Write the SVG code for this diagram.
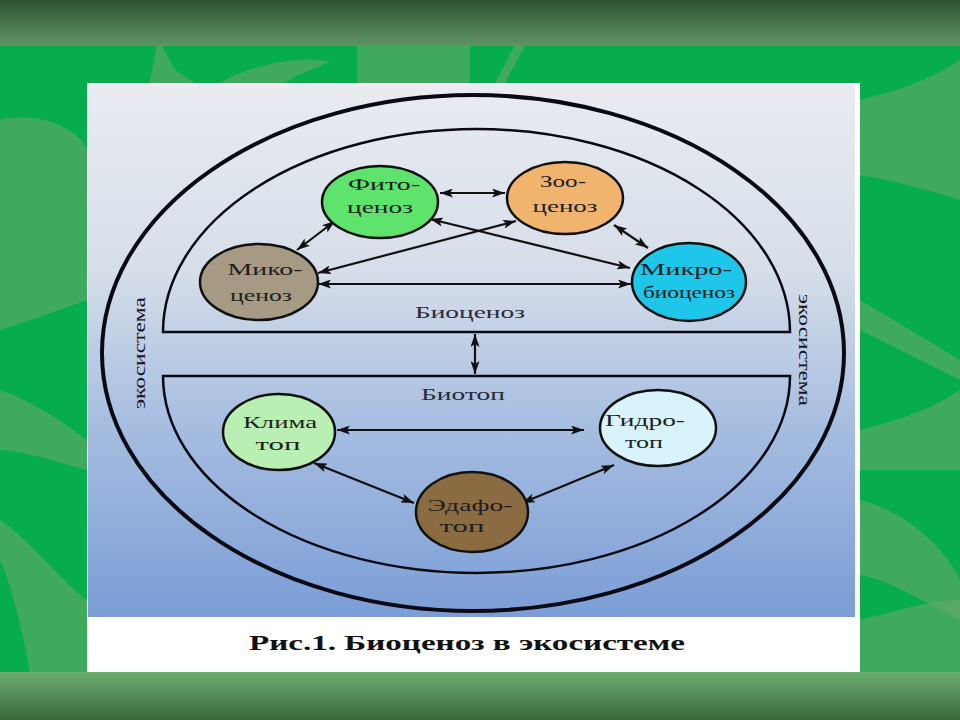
<svg xmlns="http://www.w3.org/2000/svg" width="960" height="720" viewBox="0 0 960 720">
<defs>
<linearGradient id="topband" x1="0" y1="0" x2="0" y2="1">
<stop offset="0" stop-color="#2f5332"/><stop offset="1" stop-color="#5e9463"/>
</linearGradient>
<linearGradient id="botband" x1="0" y1="0" x2="0" y2="1">
<stop offset="0" stop-color="#6cae6f"/><stop offset="1" stop-color="#3b673d"/>
</linearGradient>
<linearGradient id="pic" x1="0" y1="0" x2="0" y2="1">
<stop offset="0" stop-color="#e9ecf1"/><stop offset="0.35" stop-color="#d6dee9"/><stop offset="0.62" stop-color="#a9bfe1"/><stop offset="1" stop-color="#7b9dd6"/>
</linearGradient>
<marker id="ah" viewBox="0 0 13 9" refX="13" refY="4.5" markerWidth="13" markerHeight="9" markerUnits="userSpaceOnUse" orient="auto-start-reverse">
<path d="M0,0 L13,4.5 L0,9 L3,4.5 z" fill="#111"/>
</marker>
<style>
.leaf{fill:#66a867;opacity:0.6}
.node{stroke:#111;stroke-width:2.5}
.t{font-family:"Liberation Serif","DejaVu Serif",serif;font-size:17px;fill:#1e1e1e;text-anchor:middle}
.lbl{font-family:"Liberation Serif","DejaVu Serif",serif;font-size:16px;fill:#2a2a33;text-anchor:middle}
.side{font-family:"Liberation Serif","DejaVu Serif",serif;font-size:16px;fill:#141428;text-anchor:middle}
.arr{stroke:#111;stroke-width:2.2;fill:none;marker-start:url(#ah);marker-end:url(#ah)}
.ring{fill:none;stroke:#0a0a14}
</style>
</defs>
<!-- background -->
<rect x="0" y="0" width="960" height="720" fill="#08ad4b"/>
<path class="leaf" d="M0,120 C40,110 80,130 87,150 L87,300 C60,310 30,320 0,330 Z"/>
<path class="leaf" d="M0,390 C30,400 60,420 87,440 L87,470 C50,460 20,450 0,450 Z"/>
<path class="leaf" d="M0,520 C30,540 60,580 87,600 L87,672 L30,672 C20,620 10,580 0,560 Z"/>
<path class="leaf" d="M150,83 L158,38 L175,70 L195,83 Z"/>
<path class="leaf" d="M220,83 C250,65 300,55 330,62 C310,70 290,78 285,83 Z"/>
<path class="leaf" d="M357,45 L470,45 L470,83 L357,83 Z"/>
<path class="leaf" d="M495,83 L515,45 L525,45 L505,83 Z"/>
<path class="leaf" d="M860,100 C900,90 930,80 960,60 L960,200 C930,190 890,180 860,175 Z"/>
<path class="leaf" d="M860,300 L960,360 L960,380 L860,330 Z"/>
<path class="leaf" d="M860,430 C900,420 930,410 960,390 L960,470 L860,470 Z"/>
<path class="leaf" d="M860,500 C900,510 940,540 960,580 L960,620 C920,600 890,580 860,575 Z"/>
<path class="leaf" d="M860,620 C900,610 930,600 960,600 L960,672 L860,672 Z"/>
<rect x="0" y="0" width="960" height="46" fill="url(#topband)"/>
<rect x="0" y="672" width="960" height="48" fill="url(#botband)"/>
<!-- picture frame -->
<rect x="87" y="83" width="773" height="589" fill="#ffffff"/>
<rect x="88" y="85" width="767" height="532" fill="url(#pic)"/>
<!-- ecosystem rings -->
<g id="ecosystem">
<ellipse class="ring" cx="473" cy="353" rx="371" ry="258" stroke-width="4"/>
<text class="side" transform="translate(145,353) rotate(-90)" textLength="112" lengthAdjust="spacingAndGlyphs">экосистема</text>
<text class="side" transform="translate(799,350) rotate(90)" textLength="112" lengthAdjust="spacingAndGlyphs">экосистема</text>
</g>
<g id="biocenosis">
<path class="ring" d="M163,332 A313.5,203 0 0 1 790,332 Z" stroke-width="2.5"/>
<text class="lbl" x="470" y="318" textLength="110" lengthAdjust="spacingAndGlyphs">Биоценоз</text>
</g>
<g id="biotope">
<path class="ring" d="M163,376 A313.5,197 0 0 0 790,376 Z" stroke-width="2.5"/>
<text class="lbl" x="463" y="400" textLength="84" lengthAdjust="spacingAndGlyphs">Биотоп</text>
</g>
<!-- connectors -->
<g id="connectors">
<line class="arr" x1="440" y1="193" x2="505" y2="193"/>
<line class="arr" x1="335" y1="221" x2="297" y2="250"/>
<line class="arr" x1="516" y1="221" x2="318" y2="273"/>
<line class="arr" x1="430" y1="219" x2="630" y2="268"/>
<line class="arr" x1="318" y1="284" x2="631" y2="284"/>
<line class="arr" x1="614" y1="225" x2="648" y2="248"/>
<line class="arr" x1="475" y1="334" x2="475" y2="374"/>
<line class="arr" x1="337" y1="430" x2="584" y2="430"/>
<line class="arr" x1="314" y1="463" x2="414" y2="503"/>
<line class="arr" x1="614" y1="465" x2="522" y2="503"/>
</g>
<!-- nodes -->
<g id="fitocenoz">
<ellipse class="node" cx="380" cy="202" rx="58" ry="36" fill="#5ee36c"/>
<text class="t" x="384" y="190" textLength="72" lengthAdjust="spacingAndGlyphs">Фито-</text>
<text class="t" x="380" y="213" textLength="66" lengthAdjust="spacingAndGlyphs">ценоз</text>
</g>
<g id="zoocenoz">
<ellipse class="node" cx="565" cy="198" rx="58" ry="36" fill="#f0b46f"/>
<text class="t" x="563" y="187" textLength="46" lengthAdjust="spacingAndGlyphs">Зоо-</text>
<text class="t" x="565" y="212" textLength="65" lengthAdjust="spacingAndGlyphs">ценоз</text>
</g>
<g id="mikocenoz">
<ellipse class="node" cx="259" cy="282" rx="59" ry="38" fill="#a79a84"/>
<text class="t" x="265" y="275" textLength="75" lengthAdjust="spacingAndGlyphs">Мико-</text>
<text class="t" x="261" y="301" textLength="62" lengthAdjust="spacingAndGlyphs">ценоз</text>
</g>
<g id="mikrobiocenoz">
<ellipse class="node" cx="689" cy="282" rx="57" ry="39" fill="#1ec6ea"/>
<text class="t" x="686" y="275" textLength="92" lengthAdjust="spacingAndGlyphs">Микро-</text>
<text class="t" x="689" y="298" textLength="92" lengthAdjust="spacingAndGlyphs">биоценоз</text>
</g>
<g id="klimatop">
<ellipse class="node" cx="279" cy="432" rx="56" ry="38" fill="#b9efb3"/>
<text class="t" x="280" y="428" textLength="74" lengthAdjust="spacingAndGlyphs">Клима</text>
<text class="t" x="278" y="450" textLength="45" lengthAdjust="spacingAndGlyphs">топ</text>
</g>
<g id="gidrotop">
<ellipse class="node" cx="658" cy="428" rx="58" ry="38" fill="#d8f3fb"/>
<text class="t" x="645" y="426" textLength="80" lengthAdjust="spacingAndGlyphs">Гидро-</text>
<text class="t" x="644" y="448" textLength="38" lengthAdjust="spacingAndGlyphs">топ</text>
</g>
<g id="edafotop">
<ellipse class="node" cx="472" cy="512" rx="56" ry="40" fill="#8b6c42"/>
<text class="t" x="470" y="511" textLength="85" lengthAdjust="spacingAndGlyphs">Эдафо-</text>
<text class="t" x="462" y="532" textLength="45" lengthAdjust="spacingAndGlyphs">топ</text>
</g>
<!-- caption -->
<text x="467" y="650" font-family="'Liberation Serif','DejaVu Serif',serif" font-size="22" font-weight="bold" fill="#111" text-anchor="middle" textLength="436" lengthAdjust="spacingAndGlyphs">Рис.1. Биоценоз в экосистеме</text>
</svg>
